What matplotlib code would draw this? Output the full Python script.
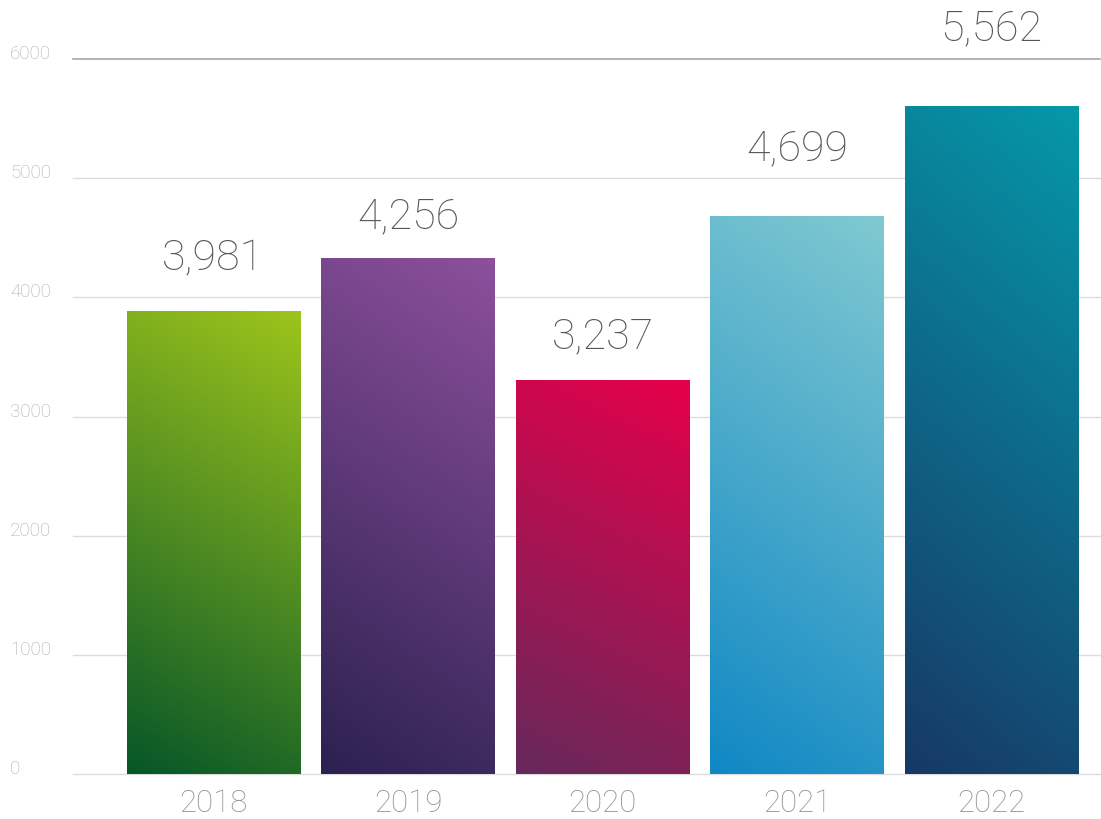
import numpy as np
import matplotlib
matplotlib.use("Agg")
import matplotlib.pyplot as plt
from matplotlib.colors import LinearSegmentedColormap
from matplotlib.patches import Rectangle

years = ["2018", "2019", "2020", "2021", "2022"]
# bar heights as drawn (they differ a little from the printed labels)
heights = [3885, 4330, 3305, 4680, 5605]
labels = ["3,981", "4,256", "3,237", "4,699", "5,562"]
label_offsets = [52, 41, 43, 67, 77]  # px above bar top
top_colors = ["#9cc41b", "#8c509c", "#e5004a", "#80c9d1", "#0598a9"]
bottom_colors = ["#065628", "#2c2150", "#66295a", "#1088c4", "#173866"]
yticks = [0, 1000, 2000, 3000, 4000, 5000, 6000]

plt.rcParams["font.family"] = ["Roboto", "DejaVu Sans"]

fig = plt.figure(figsize=(11.01, 8.19), dpi=100)
ax = fig.add_axes([73 / 1101, 45 / 819, 1027 / 1101, 715 / 819])
ax.set_xlim(-0.722, 4.558)
ax.set_ylim(0, 6000)
ax.axis("off")

for y in yticks[:-1]:
    ax.axhline(y, color="#dcdcdc", lw=1, zorder=0, clip_on=False)
ax.axhline(6000, color="#a8a8a8", lw=1.2, zorder=0, clip_on=False)

for y in yticks:
    ax.annotate(str(y), xy=(0, y), xycoords=("figure fraction", "data"),
                xytext=(10, 5), textcoords="offset pixels",
                ha="left", va="center", fontsize=13.5, color="#acacac",
                fontweight="light")

width = 0.89
yy, xx = np.mgrid[0:1:200j, 0:1:60j]
grad = np.clip(0.82 * yy + 0.18 * xx, 0, 1)
for i, h in enumerate(heights):
    cmap = LinearSegmentedColormap.from_list("g", [bottom_colors[i], top_colors[i]])
    x0 = i - width / 2
    im = ax.imshow(grad, cmap=cmap, origin="lower", aspect="auto",
                   extent=(x0, x0 + width, 0, h), zorder=2, interpolation="bilinear")
    rect = Rectangle((x0, 0), width, h, transform=ax.transData, facecolor="none")
    ax.add_patch(rect)
    im.set_clip_path(rect)
    ax.annotate(labels[i], xy=(i, h), xytext=(0, label_offsets[i]),
                textcoords="offset pixels", ha="center", va="center",
                fontsize=31, color="#555555", fontweight="light")
    ax.annotate(years[i], xy=(i, 0), xytext=(0, -29), textcoords="offset pixels",
                ha="center", va="center", fontsize=22.5, color="#8f8f8f",
                fontweight="light")

ax.set_xlim(-0.722, 4.558)
ax.set_ylim(0, 6000)
fig.savefig("out.png", dpi=100)
